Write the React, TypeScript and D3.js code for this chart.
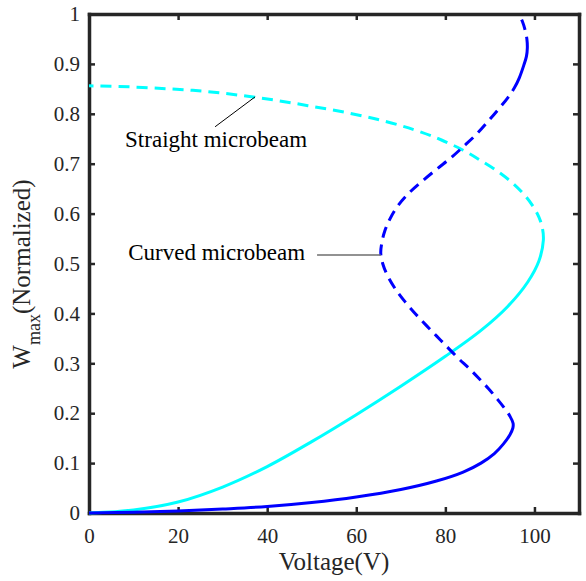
import React, { useEffect, useRef } from 'react';
import * as d3 from 'd3';

type Pt = [number, number];

// axis ticks
const xTicks = [0, 20, 40, 60, 80, 100];
const yTicks = [0, 0.1, 0.2, 0.3, 0.4, 0.5, 0.6, 0.7, 0.8, 0.9, 1];
const yTickLabels = ['0', '0.1', '0.2', '0.3', '0.4', '0.5', '0.6', '0.7', '0.8', '0.9', '1'];

// straight microbeam (cyan)
const straightStable: Pt[] = [
  [0, 0], [10, 0.006], [20, 0.022], [30, 0.052], [40, 0.093], [50, 0.143], [60, 0.197],
  [70, 0.254], [80, 0.314], [88, 0.366], [94, 0.414], [98.5, 0.463], [101, 0.505], [102, 0.547],
];
const straightUnstable: Pt[] = [
  [102, 0.547], [101.8, 0.57], [101, 0.593], [99.5, 0.617], [97.5, 0.64], [95, 0.662],
  [92, 0.683], [88, 0.706], [84, 0.727], [79, 0.748], [73, 0.768], [66, 0.786], [58, 0.802],
  [50, 0.815], [42, 0.827], [34, 0.837], [26, 0.845], [18, 0.85], [9, 0.854], [0, 0.856],
];

// curved microbeam (blue)
const curvedStable: Pt[] = [
  [0, 0], [10, 0.0015], [20, 0.004], [30, 0.008], [40, 0.013], [50, 0.021], [60, 0.032],
  [70, 0.047], [78, 0.064], [84, 0.082], [88, 0.1], [91, 0.119], [93, 0.138], [94.5, 0.157],
  [95.15, 0.17], [95.2, 0.18],
];
const curvedUnstable: Pt[] = [
  [95.2, 0.18], [94.5, 0.194], [93.2, 0.211], [91.5, 0.23], [89.6, 0.25], [87.5, 0.27],
  [85.3, 0.29], [82.9, 0.31], [80.5, 0.332], [78, 0.355], [75.5, 0.378], [73, 0.402],
  [70.7, 0.426], [68.7, 0.45], [67.1, 0.474], [66, 0.498], [65.5, 0.52], [65.7, 0.54],
  [66.4, 0.565], [67.6, 0.59], [69.3, 0.615], [71.7, 0.64], [74.8, 0.665], [78.2, 0.69],
  [81.4, 0.713], [84.5, 0.738], [87.3, 0.762], [89.8, 0.787], [92, 0.81], [94, 0.832],
  [95.5, 0.852],
];
const curvedUpperStable: Pt[] = [
  [95.5, 0.852], [96.6, 0.872], [97.6, 0.897], [98.2, 0.915], [98.4, 0.932],
];
const curvedUpperUnstable: Pt[] = [
  [98.4, 0.932], [98.3, 0.95], [97.9, 0.968], [97.3, 0.985], [96.5, 1.0],
];

const CYAN = '#00ffff';
const BLUE = '#0000ff';
const AXIS = '#262626';
const FONT = '"Liberation Serif", "Times New Roman", serif';
const DASH = 11;
const GAP = 7;

export default function App() {
  const ref = useRef<SVGSVGElement>(null);

  useEffect(() => {
    const svg = d3.select(ref.current);
    svg.selectAll('*').remove();

    const x = d3.scaleLinear().domain([0, 110]).range([89, 579]);
    const y = d3.scaleLinear().domain([0, 1]).range([513, 14]);

    const styleAxis = (g: any) => {
      g.select('.domain').attr('stroke', AXIS).attr('stroke-width', 3.5).attr('stroke-linecap', 'square');
      g.selectAll('.tick line').attr('stroke', AXIS).attr('stroke-width', 2.5);
      g.selectAll('.tick text')
        .attr('fill', AXIS)
        .attr('font-family', FONT)
        .attr('font-size', 21);
    };

    svg.append('g')
      .attr('transform', `translate(0,${y(0)})`)
      .call(d3.axisBottom(x).tickValues(xTicks).tickSizeInner(-6).tickSizeOuter(0).tickPadding(15))
      .call(styleAxis);
    svg.append('g')
      .attr('transform', `translate(${x(0)},0)`)
      .call(d3.axisLeft(y).tickValues(yTicks).tickFormat((d, i) => yTickLabels[i]).tickSizeInner(-6).tickSizeOuter(0).tickPadding(9))
      .call(styleAxis);
    svg.append('g')
      .attr('transform', `translate(0,${y(1)})`)
      .call(d3.axisTop(x).tickValues(xTicks).tickFormat(() => '').tickSizeInner(-6).tickSizeOuter(0))
      .call(styleAxis);
    svg.append('g')
      .attr('transform', `translate(${x(110)},0)`)
      .call(d3.axisRight(y).tickValues(yTicks).tickFormat(() => '').tickSizeInner(-6).tickSizeOuter(0))
      .call(styleAxis);

    // curves: one smooth path per beam, solid/dashed parts done with a computed dasharray
    const line = d3.line<Pt>()
      .x(d => x(d[0]))
      .y(d => y(d[1]))
      .curve(d3.curveCatmullRom.alpha(0.5));

    const drawBeam = (pieces: { data: Pt[]; dashed: boolean }[], color: string) => {
      const full: Pt[] = [];
      pieces.forEach((p, i) => full.push(...(i === 0 ? p.data : p.data.slice(1))));

      const path = svg.append('path')
        .datum(full)
        .attr('fill', 'none')
        .attr('stroke', color)
        .attr('stroke-width', 3)
        .attr('d', line);
      const total = (path.node() as SVGPathElement).getTotalLength();

      const tmp = svg.append('path').attr('fill', 'none');
      const runs: number[] = [];
      const push = (on: boolean, len: number) => {
        if (runs.length === 0 && !on) runs.push(0);
        const lastOn = (runs.length - 1) % 2 === 0;
        if (runs.length > 0 && lastOn === on) runs[runs.length - 1] += len;
        else runs.push(len);
      };

      let prefix: Pt[] = [];
      let prev = 0;
      pieces.forEach((p, i) => {
        prefix = prefix.concat(i === 0 ? p.data : p.data.slice(1));
        const end = i === pieces.length - 1
          ? total
          : (tmp.attr('d', line(prefix)).node() as SVGPathElement).getTotalLength();
        const len = end - prev;
        prev = end;
        if (!p.dashed) push(true, len);
        else {
          let left = len;
          while (left > 0) {
            push(true, Math.min(DASH, left));
            left -= DASH;
            if (left > 0) {
              push(false, Math.min(GAP, left));
              left -= GAP;
            }
          }
        }
      });
      tmp.remove();
      push(false, 2000);
      if (runs.length % 2 === 1) push(true, 0.001);
      path.attr('stroke-dasharray', runs.map(r => r.toFixed(2)).join(' '));
    };

    drawBeam([
      { data: straightStable, dashed: false },
      { data: straightUnstable, dashed: true },
    ], CYAN);
    drawBeam([
      { data: curvedStable, dashed: false },
      { data: curvedUnstable, dashed: true },
      { data: curvedUpperStable, dashed: false },
      { data: curvedUpperUnstable, dashed: true },
    ], BLUE);

    // annotations
    svg.append('line')
      .attr('x1', x(28.3)).attr('y1', y(0.774))
      .attr('x2', x(37.3)).attr('y2', y(0.834))
      .attr('stroke', '#000').attr('stroke-width', 1);
    svg.append('text')
      .attr('x', x(8.1)).attr('y', y(0.733))
      .attr('font-family', FONT).attr('font-size', 23).attr('fill', '#000')
      .text('Straight microbeam');

    svg.append('line')
      .attr('x1', x(51.2)).attr('y1', y(0.517))
      .attr('x2', x(65.5)).attr('y2', y(0.517))
      .attr('stroke', '#6e6e6e').attr('stroke-width', 1.5);
    svg.append('text')
      .attr('x', x(8.8)).attr('y', y(0.507))
      .attr('font-family', FONT).attr('font-size', 23).attr('fill', '#000')
      .text('Curved microbeam');

    // axis labels
    svg.append('text')
      .attr('x', 334).attr('y', 570)
      .attr('text-anchor', 'middle')
      .attr('font-family', FONT).attr('font-size', 25).attr('fill', AXIS)
      .text('Voltage(V)');

    const yl = svg.append('text')
      .attr('transform', 'translate(30,274) rotate(-90)')
      .attr('text-anchor', 'middle')
      .attr('font-family', FONT).attr('font-size', 25).attr('fill', AXIS);
    yl.append('tspan').text('W');
    yl.append('tspan').attr('dy', 10).attr('font-size', 18).text('max');
    yl.append('tspan').attr('dy', -10).text('(Normalized)');
  }, []);

  return (
    <div style={{ position: 'absolute', left: 0, top: 0 }}>
      <svg ref={ref} width={586} height={581} style={{ display: 'block', background: '#fff' }} />
    </div>
  );
}
